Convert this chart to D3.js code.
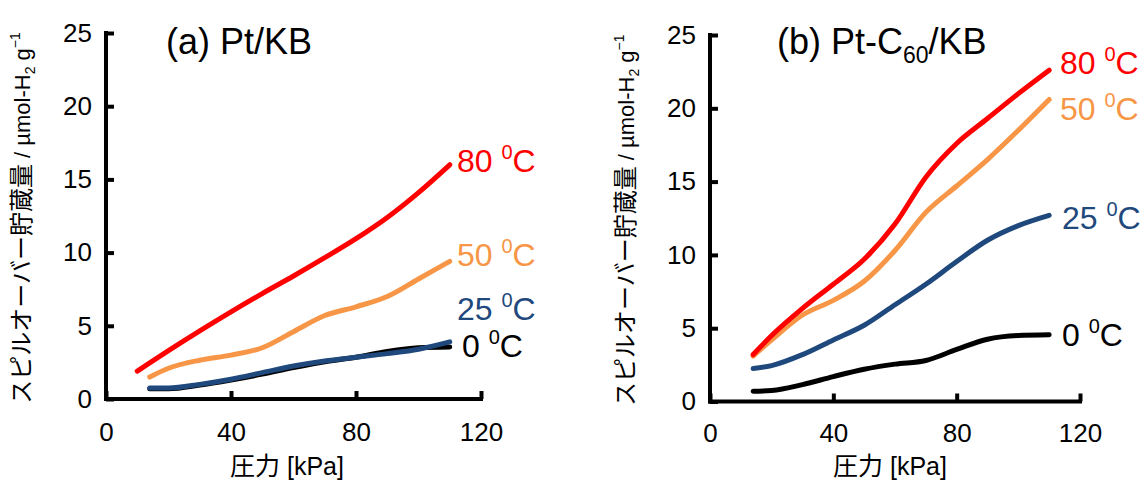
<!DOCTYPE html>
<html><head><meta charset="utf-8">
<script src="https://cdn.jsdelivr.net/npm/d3@7"></script>
<style>
html,body{margin:0;padding:0;background:#fff;}
text{font-family:Arial,"Liberation Sans",sans-serif;}
.cjk{font-family:"Noto Sans CJK JP","Noto Sans CJK SC",sans-serif;}
</style></head>
<body>
<svg id="chart" width="1147" height="484"></svg>
<script>
// ---- data ----
const pressures = [14, 20, 30, 40, 50, 60, 70, 80, 90, 100, 110];
const pressuresA80 = [10, 20, 30, 40, 50, 60, 70, 80, 90, 100, 110];
const xTicks = [0, 40, 80, 120];
const yTicks = [0, 5, 10, 15, 20, 25];
const seriesNames = ["0", "25", "50", "80"];
const seriesColors = ["#000000", "#1F497D", "#F79646", "#FF0000"];

// panel (a) Pt/KB
const a_0C  = [0.7, 0.7, 0.95, 1.3, 1.7, 2.15, 2.55, 2.85, 3.25, 3.5, 3.55];
const a_25C = [0.75, 0.75, 1.0, 1.35, 1.8, 2.25, 2.6, 2.85, 3.1, 3.4, 3.9];
const a_50C = [1.5, 2.1, 2.65, 3.0, 3.5, 4.6, 5.7, 6.3, 7.0, 8.2, 9.4];
const a_80C = [1.9, 3.3, 4.65, 5.95, 7.2, 8.4, 9.65, 10.95, 12.4, 14.1, 16.0];

// panel (b) Pt-C60/KB
const b_0C  = [0.7, 0.75, 1.15, 1.7, 2.2, 2.55, 2.8, 3.55, 4.25, 4.5, 4.55];
const b_25C = [2.25, 2.45, 3.2, 4.2, 5.2, 6.6, 8.0, 9.55, 11.0, 12.0, 12.7];
const b_50C = [3.1, 4.2, 5.9, 6.9, 8.2, 10.3, 12.9, 14.7, 16.5, 18.5, 20.6];
const b_80C = [3.2, 4.5, 6.35, 8.0, 9.7, 12.1, 15.3, 17.6, 19.3, 21.0, 22.6];

const svg = d3.select("#chart");
svg.append("rect").attr("width",1147).attr("height",484).attr("fill","#fff");

const panels = [
  {title:"a", xr:[106,481], yr:[399,33], titleX:166, xTitleX:287,
   series:[{x:pressures,y:a_0C},{x:pressures,y:a_25C},{x:pressures,y:a_50C},{x:pressuresA80,y:a_80C}],
   labelPos:[[462,357],[457,320],[457,266],[457,172]]},
  {title:"b", xr:[710,1080], yr:[401.5,35], titleX:777, xTitleX:890,
   series:[{x:pressures,y:b_0C},{x:pressures,y:b_25C},{x:pressures,y:b_50C},{x:pressures,y:b_80C}],
   labelPos:[[1062,346],[1062,229],[1060,120],[1060,74]]}
];

panels.forEach((p, pi) => {
  const x = d3.scaleLinear().domain([0,120]).range(p.xr);
  const y = d3.scaleLinear().domain([0,25]).range(p.yr);
  const g = svg.append("g");

  // axes
  const xa = g.append("g").attr("transform",`translate(0,${p.yr[0]})`)
    .call(d3.axisBottom(x).tickValues(xTicks).tickSizeInner(-8).tickSizeOuter(0).tickPadding(pi===0?24:22));
  const ya = g.append("g").attr("transform",`translate(${p.xr[0]},0)`)
    .call(d3.axisLeft(y).tickValues(yTicks).tickSizeInner(-8).tickSizeOuter(0).tickPadding(14));
  [xa, ya].forEach(a => {
    a.select(".domain").attr("stroke","#000").attr("stroke-width",4);
    a.selectAll(".tick line").attr("stroke","#000").attr("stroke-width",4);
    a.selectAll(".tick text").attr("font-size",26).attr("fill","#000")
      .attr("font-family","Arial, 'Liberation Sans', sans-serif");
  });
  xa.select(".domain").attr("d", `M${p.xr[0]-2},0H${p.xr[1]+2}`);
  ya.select(".domain").attr("d", `M0,${p.yr[0]+2}V${p.yr[1]-2}`);

  // lines
  const line = d3.line().x(d=>x(d[0])).y(d=>y(d[1])).curve(d3.curveMonotoneX);
  p.series.forEach((s, i) => {
    const pts = s.x.map((v,k)=>[v, s.y[k]]);
    g.append("path").attr("d", line(pts)).attr("fill","none")
      .attr("stroke", seriesColors[i]).attr("stroke-width",5).attr("stroke-linecap","round");
  });

  // series labels
  seriesNames.forEach((n, i) => {
    const t = g.append("text").attr("x", p.labelPos[i][0]).attr("y", p.labelPos[i][1])
      .attr("font-size",32).attr("fill", seriesColors[i]);
    t.append("tspan").text(n + " ");
    t.append("tspan").text("0").attr("font-size",20).attr("dy",-13);
    t.append("tspan").text("C").attr("dy",13);
  });

  // title
  const tt = g.append("text").attr("x", p.titleX).attr("y",54).attr("font-size",36).attr("fill","#000");
  if (pi===0) {
    tt.text("(a) Pt/KB");
  } else {
    tt.append("tspan").text("(b) Pt-C");
    tt.append("tspan").text("60").attr("font-size",23).attr("dy",9);
    tt.append("tspan").text("/KB").attr("dy",-9);
  }

  // x title
  const xt = g.append("text").attr("x", p.xTitleX).attr("y",475).attr("text-anchor","middle")
    .attr("font-size",25).attr("fill","#000");
  xt.append("tspan").attr("class","cjk").attr("font-size",25).text("圧力");
  xt.append("tspan").text(" [kPa]");

  // y title
  const yt = g.append("text")
    .attr("transform",`translate(${p.xr[0]-76},${(p.yr[0]+p.yr[1])/2+2}) rotate(-90)`)
    .attr("text-anchor","middle").attr("font-size",22).attr("fill","#000");
  yt.append("tspan").attr("class","cjk").attr("font-size",24).text("スピルオーバー貯蔵量");
  yt.append("tspan").text(" / µmol-H");
  yt.append("tspan").text("2").attr("font-size",14).attr("dy",5);
  yt.append("tspan").text(" g").attr("dy",-5);
  yt.append("tspan").text("−1").attr("font-size",14).attr("dy",-10);
});
</script>
</body></html>
